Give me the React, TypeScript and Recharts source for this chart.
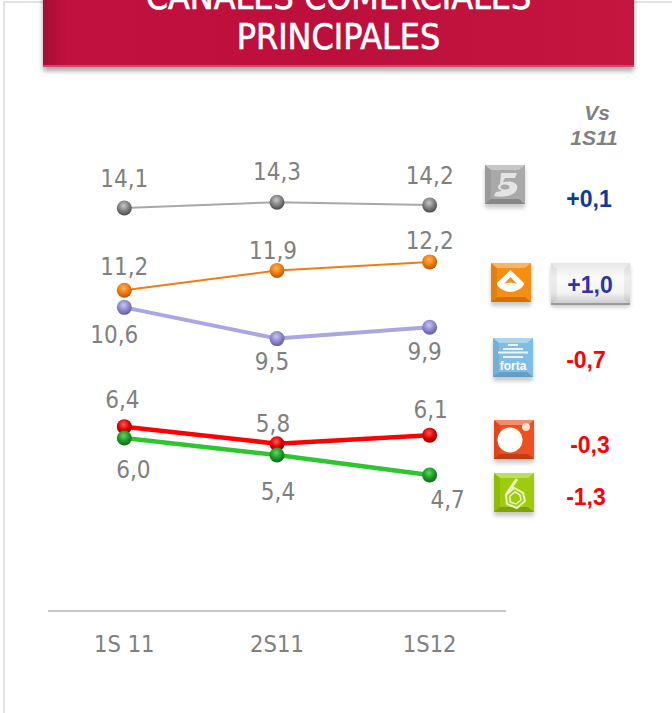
import { LabelList, Line, LineChart, XAxis, YAxis } from 'recharts'

const PERIODS = ['1S 11', '2S11', '1S12']
const telecinco = [14.1, 14.3, 14.2]
const antena3 = [11.2, 11.9, 12.2]
const forta = [10.6, 9.5, 9.9]
const cuatro = [6.4, 5.8, 6.1]
const laSexta = [6.0, 5.4, 4.7]

const chartData = PERIODS.map((period, i) => ({
  period,
  telecinco: telecinco[i],
  antena3: antena3[i],
  forta: forta[i],
  cuatro: cuatro[i],
  laSexta: laSexta[i],
}))

const FONT = '"DejaVu Sans Condensed", "DejaVu Sans", sans-serif'
const ARIAL = '"Liberation Sans", sans-serif'
const GREY = '#808080'

// label nudges from the point, [dx, dy] per period
const LABEL_NUDGE: Record<string, number[][]> = {
  telecinco: [[0, -30], [0, -31], [0, -30]],
  antena3: [[0, -24], [-4, -20], [0, -22]],
  forta: [[-10, 27], [-5, 23], [-5, 24]],
  cuatro: [[-2, -27], [-4, -20], [1, -26]],
  laSexta: [[9, 31], [1, 36], [18, 24]],
}

const SERIES = [
  { key: 'telecinco', stroke: '#a8a8a8', width: 2, light: '#c8c8c8', mid: '#808080', dark: '#4a4a4a' },
  { key: 'forta', stroke: '#aaa6e2', width: 4, light: '#c9c6f0', mid: '#8d89cc', dark: '#5f5c9c' },
  { key: 'antena3', stroke: '#f07c12', width: 2, light: '#ffb566', mid: '#f07c0c', dark: '#b85500' },
  { key: 'cuatro', stroke: '#ff0000', width: 4.5, light: '#ff5a5a', mid: '#e00000', dark: '#8c0000' },
  { key: 'laSexta', stroke: '#2ec62e', width: 4.5, light: '#5fd85f', mid: '#1f9a2a', dark: '#0e6a18' },
]

function Ball({ cx, cy, id }: any) {
  return <circle cx={cx} cy={cy} r={7.5} fill={`url(#ball-${id})`} />
}

function PointLabel({ x, y, value, index, seriesKey }: any) {
  const [dx, dy] = LABEL_NUDGE[seriesKey][index]
  return (
    <text x={x + dx} y={y + dy} dy="0.36em" textAnchor="middle" fontSize={24} fontFamily={FONT} fill={GREY}>
      {String(value).includes('.') ? String(value).replace('.', ',') : `${value},0`}
    </text>
  )
}

function Badge({ x, y, color, edge, children }: any) {
  return (
    <svg
      width={48}
      height={50}
      style={{ position: 'absolute', left: x - 4, top: y - 2, overflow: 'visible' }}
      viewBox="-4 -2 48 50"
    >
      <rect x={0} y={3} width={40} height={40} fill="#000" opacity={0.22} filter="url(#soft)" />
      <rect x={0} y={0} width={40} height={39} fill={color} />
      <polygon points="0,0 40,0 34,5 6,5" fill="#fff" opacity={0.35} />
      <polygon points="0,39 40,39 34,34 6,34" fill={edge} opacity={0.4} />
      <polygon points="0,0 6,5 6,34 0,39" fill="#000" opacity={0.08} />
      {children}
    </svg>
  )
}

function Delta({ x, y, color, text }: any) {
  return (
    <div
      style={{
        position: 'absolute',
        left: x - 50,
        top: y - 14,
        width: 100,
        height: 28,
        lineHeight: '28px',
        textAlign: 'center',
        fontFamily: ARIAL,
        fontWeight: 700,
        fontSize: 23,
        color,
      }}
    >
      {text}
    </div>
  )
}

export default function App() {
  return (
    <div style={{ position: 'absolute', left: 0, top: 0, width: 672, height: 713, overflow: 'hidden', background: '#fff' }}>
      {/* slide frame */}
      <div style={{ position: 'absolute', left: 3, top: 1, width: 700, height: 760, border: '2px solid #e2e2e2' }} />

      <LineChart
        width={672}
        height={713}
        data={chartData}
        margin={{ top: 100, right: 166, bottom: 0, left: 48 }}
        style={{ position: 'absolute', left: 0, top: 0 }}
      >
        <defs>
          {SERIES.map((s) => (
            <radialGradient key={s.key} id={`ball-${s.key}`} cx="45%" cy="35%" r="65%">
              <stop offset="0%" stopColor={s.light} />
              <stop offset="55%" stopColor={s.mid} />
              <stop offset="100%" stopColor={s.dark} />
            </radialGradient>
          ))}
        </defs>
        <XAxis
          dataKey="period"
          scale="band"
          height={102}
          tickLine={false}
          axisLine={{ stroke: '#909090', strokeWidth: 1 }}
          tick={{ fontSize: 23.5, fontFamily: FONT, fill: GREY }}
          tickMargin={18}
        />
        <YAxis hide domain={[-0.09, 17.9]} />
        {SERIES.map((s) => (
          <Line
            key={s.key}
            dataKey={s.key}
            type="linear"
            stroke={s.stroke}
            strokeWidth={s.width}
            isAnimationActive={false}
            dot={(props: any) => <Ball key={props.index} cx={props.cx} cy={props.cy} id={s.key} />}
            activeDot={false}
          >
            <LabelList dataKey={s.key} content={(p: any) => <PointLabel {...p} seriesKey={s.key} />} />
          </Line>
        ))}
      </LineChart>

      {/* title banner */}
      <div
        style={{
          position: 'absolute',
          left: 43,
          top: -40,
          width: 591,
          height: 107,
          background: 'linear-gradient(90deg, #a50f35 0, #c1113f 4%, #bd0f3c 50%, #c5163f 100%)',
          borderBottom: '2px solid #d2486c',
          boxShadow: '0 4px 5px rgba(0,0,0,0.35)',
          color: '#fff',
          fontFamily: FONT,
          fontSize: 35.5,
          lineHeight: '40px',
          textAlign: 'center',
          paddingTop: 17,
          boxSizing: 'border-box',
          WebkitTextStroke: '0.6px #fff',
        }}
      >
        CANALES COMERCIALES
        <br />
        PRINCIPALES
      </div>

      <svg width={0} height={0} style={{ position: 'absolute' }}>
        <defs>
          <filter id="soft" x="-20%" y="-20%" width="140%" height="140%">
            <feGaussianBlur stdDeviation="2" />
          </filter>
          <linearGradient id="btn" x1="0" y1="0" x2="0" y2="1">
            <stop offset="0%" stopColor="#e6e6e6" />
            <stop offset="35%" stopColor="#fbfbfb" />
            <stop offset="70%" stopColor="#f4f4f4" />
            <stop offset="100%" stopColor="#c6c6c6" />
          </linearGradient>
        </defs>
      </svg>

      {/* comparison header */}
      <div
        style={{
          position: 'absolute',
          left: 544,
          top: 100,
          width: 100,
          textAlign: 'center',
          fontFamily: ARIAL,
          fontWeight: 700,
          fontStyle: 'italic',
          fontSize: 21,
          lineHeight: '25px',
          color: GREY,
        }}
      >
        <div style={{ marginLeft: 6 }}>Vs</div>
        <div>1S11</div>
      </div>

      {/* channel badges */}
      <Badge x={485} y={165} color="#a9a9a9" edge="#555">
        <path
          d="M16 8 L32 8 L30 13 L20 13 L18 17 C28 15 34 19 32 24 C30 31 18 33 9 31 L11 27 L17 26 C12 24 12 21 15 19 Z"
          fill="#e4e4e4"
        />
        <ellipse cx={20} cy={22} rx={4.5} ry={2.5} fill="#a9a9a9" />
      </Badge>
      <Badge x={491} y={263} color="#f78d12" edge="#8a4a00">
        <path d="M19.5 7 L33 20 Q33 24 27 27 Q19.5 31 12 27 Q6 24 6 20 Z" fill="#fff" />
        <path d="M19.5 14 L26 21 Q19.5 18 13 21 Z" fill="#f78d12" />
      </Badge>
      <Badge x={493} y={338} color="#80bde6" edge="#3a6f96">
        <rect x={15} y={6} width={10} height={2} fill="#eaf5fc" />
        <rect x={10} y={10} width={20} height={2} fill="#eaf5fc" />
        <rect x={5} y={13.5} width={30} height={2} fill="#eaf5fc" />
        <rect x={10} y={18} width={20} height={2} fill="#eaf5fc" />
        <text x={20} y={32} textAnchor="middle" fontFamily={ARIAL} fontWeight={700} fontSize={12} fill="#fff">
          forta
        </text>
      </Badge>
      <Badge x={494} y={420} color="#ee4f1e" edge="#7d2508">
        <circle cx={16} cy={20} r={12.5} fill="#fff" />
        <circle cx={32} cy={7} r={4} fill="#fde2d8" />
      </Badge>
      <Badge x={494} y={473} color="#9ccc0c" edge="#4f6b00">
        <polygon points="12,22 20,15 29,20 31,28 23,35 13,31" fill="none" stroke="#eef5c8" strokeWidth={2} />
        <polygon points="16,23 21,19 26,22 27,27 22,31 16,29" fill="none" stroke="#eef5c8" strokeWidth={1.5} />
        <line x1={12} y1={22} x2={23} y2={6} stroke="#eef5c8" strokeWidth={3} />
      </Badge>

      {/* highlighted delta button */}
      <svg width={79} height={42} style={{ position: 'absolute', left: 551, top: 263, overflow: 'visible' }}>
        <rect x={0} y={3} width={79} height={41} fill="#000" opacity={0.22} filter="url(#soft)" />
        <rect x={0} y={0} width={79} height={42} fill="url(#btn)" />
        <polygon points="0,0 6,6 6,36 0,42" fill="#000" opacity={0.05} />
        <polygon points="79,0 73,6 73,36 79,42" fill="#000" opacity={0.05} />
        <rect x={0} y={40} width={79} height={2} fill="#9a9a9a" />
      </svg>
      <Delta x={589} y={199} color="#0b3a9b" text="+0,1" />
      <Delta x={590} y={285} color="#2e34a8" text="+1,0" />
      <Delta x={586} y={360} color="#ff0000" text="-0,7" />
      <Delta x={590} y={445} color="#ff0000" text="-0,3" />
      <Delta x={586} y={497} color="#ff0000" text="-1,3" />
    </div>
  )
}
